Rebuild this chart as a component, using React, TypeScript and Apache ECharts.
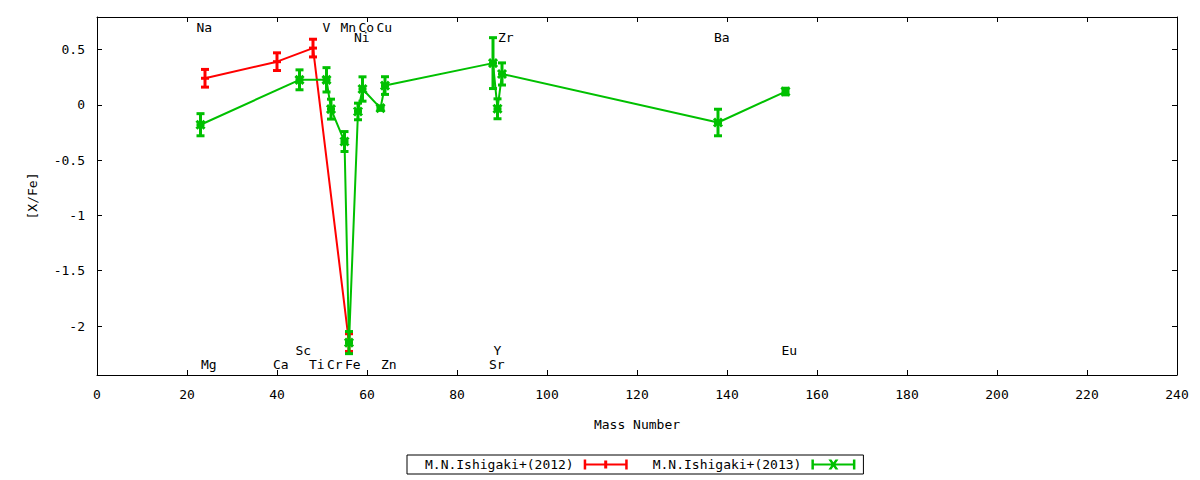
import React, { useEffect, useRef } from "react";
import * as echarts from "echarts";

const LABEL_2012 = "M.N.Ishigaki+(2012)";
const LABEL_2013 = "M.N.Ishigaki+(2013)";

const massRed = [24, 40, 48, 56];
const valRed = [0.24, 0.39, 0.513, -2.15];
const errRed = [0.08, 0.08, 0.08, 0.08];

const massGreen = [23, 45, 51, 52, 55, 56, 58, 59, 63, 64, 88, 89, 90, 138, 153];
const valGreen = [-0.18, 0.226, 0.226, -0.039, -0.332, -2.15, -0.06, 0.143, -0.03, 0.174, 0.377, -0.036, 0.279, -0.16, 0.12];
const errGreen = [0.1, 0.09, 0.11, 0.09, 0.09, 0.1, 0.075, 0.11, 0.02, 0.08, 0.23, 0.09, 0.1, 0.12, 0.03];

const elemNames = ["Na", "V", "Mn", "Co", "Cu", "Ni", "Zr", "Ba", "Mg", "Ca", "Sc", "Ti", "Cr", "Fe", "Zn", "Y", "Sr", "Eu"];
const elemMass = [23, 51, 55, 59, 63, 58, 90, 138, 24, 40, 45, 48, 52, 56, 64, 89, 88, 153];
const elemLabelY = [0.697, 0.697, 0.697, 0.697, 0.697, 0.606, 0.606, 0.606, -2.344, -2.344, -2.217, -2.344, -2.344, -2.344, -2.344, -2.217, -2.344, -2.217];

const yTicks = [-2, -1.5, -1, -0.5, 0, 0.5];
const Y_MIN = -2.443;
const Y_MAX = 0.794;

const RED = "#ff0000";
const GREEN = "#00c000";
const FONT = "DejaVu Sans Mono";

const ICON_RED = "path://M0,4H44V6H0Z M0,0H2.5V10H0Z M41.5,0H44V10H41.5Z M20.5,1H23.5V9H20.5Z";
const ICON_GREEN = "path://M0,4H44V6H0Z M0,0H2.5V10H0Z M41.5,0H44V10H41.5Z M17,0H20L27,10H24Z M24,0H27L20,10H17Z";

function makeErrorBar(color: string, cross: boolean) {
  return (params: any, api: any) => {
    const x = api.value(0);
    const y = api.value(1);
    const e = api.value(2);
    const c = api.coord([x, y]);
    const hi = api.coord([x, y + e]);
    const lo = api.coord([x, y - e]);
    const half = 4;
    const style = { stroke: color, lineWidth: 3, fill: "none" };
    const children: any[] = [
      { type: "line", shape: { x1: c[0], y1: hi[1], x2: c[0], y2: lo[1] }, style },
      { type: "line", shape: { x1: c[0] - half, y1: hi[1], x2: c[0] + half, y2: hi[1] }, style },
      { type: "line", shape: { x1: c[0] - half, y1: lo[1], x2: c[0] + half, y2: lo[1] }, style },
    ];
    if (cross) {
      const s = 4;
      children.push(
        { type: "line", shape: { x1: c[0] - s, y1: c[1] - s, x2: c[0] + s, y2: c[1] + s }, style },
        { type: "line", shape: { x1: c[0] - s, y1: c[1] + s, x2: c[0] + s, y2: c[1] - s }, style },
        { type: "line", shape: { x1: c[0] - s, y1: c[1], x2: c[0] + s, y2: c[1] }, style }
      );
    } else {
      children.push({ type: "line", shape: { x1: c[0] - half, y1: c[1], x2: c[0] + half, y2: c[1] }, style });
    }
    return { type: "group", children };
  };
}

function labelItem(params: any, api: any) {
  const idx = params.dataIndex;
  const p = api.coord([api.value(0), api.value(1)]);
  return {
    type: "text",
    x: p[0] - 4,
    y: p[1],
    style: {
      text: elemNames[idx],
      fill: "#000",
      font: `13px ${FONT}`,
      align: "left",
      verticalAlign: "middle",
    },
  };
}

export default function App() {
  const ref = useRef<HTMLDivElement>(null);
  useEffect(() => {
    if (!ref.current) return;
    const chart = echarts.init(ref.current, undefined, { renderer: "svg" });
    const redLine = massRed.map((m, i) => [m, valRed[i]]);
    const greenLine = massGreen.map((m, i) => [m, valGreen[i]]);
    const redErr = massRed.map((m, i) => [m, valRed[i], errRed[i]]);
    const greenErr = massGreen.map((m, i) => [m, valGreen[i], errGreen[i]]);
    const labels = elemMass.map((m, i) => [m, elemLabelY[i]]);
    const axisLine = { show: true, onZero: false, lineStyle: { color: "#000", width: 1 } };
    const tickStyle = { show: true, inside: true, length: 5, lineStyle: { color: "#000", width: 1 } };
    const labelStyle = { color: "#000", fontFamily: FONT, fontSize: 13 };
    const option: any = {
      animation: false,
      backgroundColor: "#fff",
      textStyle: { fontFamily: FONT },
      grid: { left: 97, right: 23, top: 17, bottom: 105, containLabel: false },
      legend: {
        left: 407,
        top: 455,
        orient: "horizontal",
        align: "right",
        itemWidth: 44,
        itemHeight: 10,
        itemGap: 25,
        borderColor: "#000",
        borderWidth: 1,
        borderRadius: 0,
        padding: [3, 8, 3, 18],
        textStyle: { color: "#000", fontFamily: FONT, fontSize: 13, padding: [0, 5, 0, 0] },
        data: [
          { name: LABEL_2012, icon: ICON_RED, itemStyle: { color: RED } },
          { name: LABEL_2013, icon: ICON_GREEN, itemStyle: { color: GREEN } },
        ],
        selectedMode: false,
      },
      xAxis: [
        {
          type: "value",
          min: 0,
          max: 240,
          interval: 20,
          position: "bottom",
          name: "Mass Number",
          nameLocation: "middle",
          nameGap: 43,
          nameTextStyle: { color: "#000", fontFamily: FONT, fontSize: 13 },
          axisLine,
          axisTick: tickStyle,
          axisLabel: { ...labelStyle, margin: 13 },
          splitLine: { show: false },
        },
        {
          type: "value",
          min: 0,
          max: 240,
          interval: 20,
          position: "top",
          axisLine,
          axisTick: tickStyle,
          axisLabel: { show: false },
          splitLine: { show: false },
        },
      ],
      yAxis: [
        {
          type: "value",
          min: Y_MIN,
          max: Y_MAX,
          position: "left",
          name: "[X/Fe]",
          nameLocation: "middle",
          nameGap: 58,
          nameRotate: 90,
          nameTextStyle: { color: "#000", fontFamily: FONT, fontSize: 13 },
          axisLine,
          axisTick: { ...tickStyle, customValues: yTicks },
          axisLabel: { ...labelStyle, margin: 12, customValues: yTicks, formatter: (v: number) => String(v) },
          splitLine: { show: false },
        },
        {
          type: "value",
          min: Y_MIN,
          max: Y_MAX,
          position: "right",
          axisLine,
          axisTick: { ...tickStyle, customValues: yTicks },
          axisLabel: { show: false },
          splitLine: { show: false },
        },
      ],
      series: [
        {
          name: LABEL_2012,
          type: "line",
          data: redLine,
          symbol: "none",
          lineStyle: { color: RED, width: 2 },
          itemStyle: { color: RED },
          z: 2,
        },
        {
          name: "err2012",
          type: "custom",
          data: redErr,
          renderItem: makeErrorBar(RED, false),
          itemStyle: { color: RED },
          z: 3,
        },
        {
          name: LABEL_2013,
          type: "line",
          data: greenLine,
          symbol: "none",
          lineStyle: { color: GREEN, width: 2 },
          itemStyle: { color: GREEN },
          z: 4,
        },
        {
          name: "err2013",
          type: "custom",
          data: greenErr,
          renderItem: makeErrorBar(GREEN, true),
          itemStyle: { color: GREEN },
          z: 5,
        },
        {
          name: "elements",
          type: "custom",
          data: labels,
          renderItem: labelItem,
          clip: false,
          z: 6,
        },
      ],
    };
    chart.setOption(option);
    return () => chart.dispose();
  }, []);
  return <div ref={ref} style={{ width: 1200, height: 480, position: "absolute", left: 0, top: 0 }} />;
}
